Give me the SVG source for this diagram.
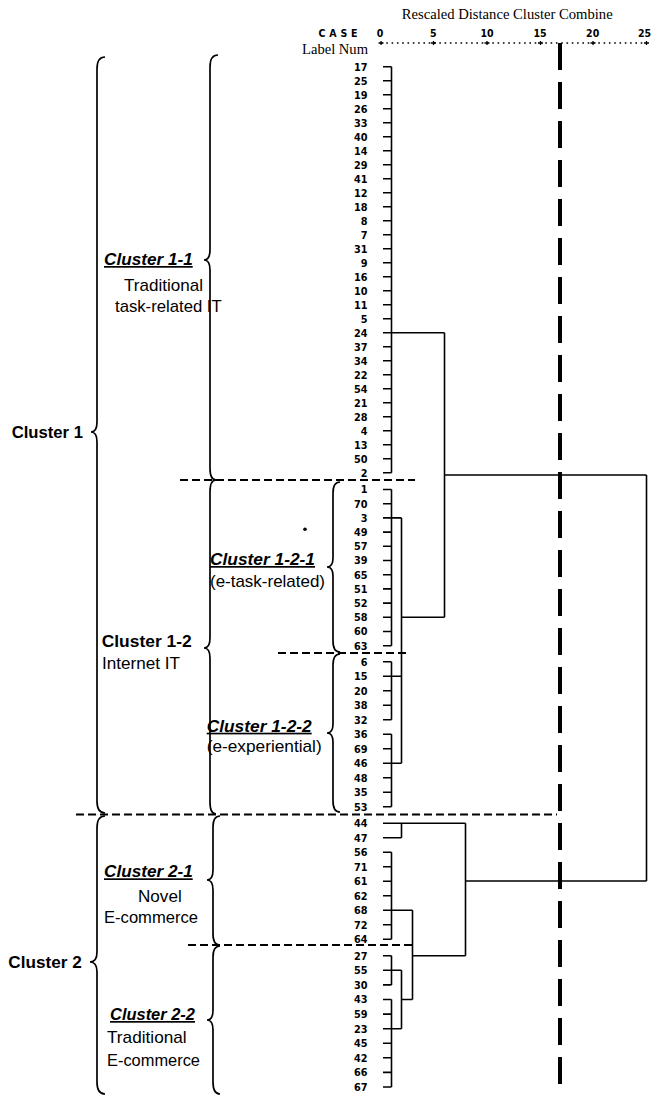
<svg xmlns="http://www.w3.org/2000/svg" width="653" height="1097" viewBox="0 0 653 1097">
<style>
.lf{font-family:"DejaVu Sans Condensed","DejaVu Sans",sans-serif;font-stretch:condensed;font-weight:bold;font-size:10.8px;text-anchor:end;fill:#000}
.ax{font-family:"DejaVu Sans Condensed","DejaVu Sans",sans-serif;font-stretch:condensed;font-weight:bold;font-size:10.5px;text-anchor:middle;fill:#000}
.sf{font-family:"Liberation Serif","Times New Roman",serif;fill:#000}
.cb{font-family:"Liberation Sans",Arial,sans-serif;font-weight:bold;font-size:17px;fill:#000}
.ci{font-family:"Liberation Sans",Arial,sans-serif;font-weight:bold;font-style:italic;font-size:17px;text-decoration:underline;fill:#000}
.cr{font-family:"Liberation Sans",Arial,sans-serif;font-size:17px;fill:#000}
.tree{fill:none;stroke:#000;stroke-width:1.6}
.brace{fill:none;stroke:#000;stroke-width:1.7}
.cut{fill:none;stroke:#000;stroke-width:2;stroke-dasharray:8 4}
</style>
<rect width="653" height="1097" fill="#fff"/>

<g id="header">
<text class="sf" x="401.7" y="19" font-size="14.5" textLength="211" lengthAdjust="spacingAndGlyphs">Rescaled Distance Cluster Combine</text>
<text class="ax" x="338" y="36.5" font-size="8.5" textLength="39" lengthAdjust="spacing">C A S E</text>
<text class="ax" x="380" y="36.5">0</text>
<text class="ax" x="433.3" y="36.5">5</text>
<text class="ax" x="487" y="36.5">10</text>
<text class="ax" x="540" y="36.5">15</text>
<text class="ax" x="592.7" y="36.5">20</text>
<text class="ax" x="644.5" y="36.5">25</text>
<text class="sf" x="302" y="53.5" font-size="15" textLength="66" lengthAdjust="spacingAndGlyphs">Label Num</text>
<line x1="381" y1="43" x2="647" y2="43" stroke="#000" stroke-width="1.4" stroke-dasharray="1.6 3.7"/>
<path d="M378.5 43h5M381 41v4M431 43h5M433.5 41v4M484.5 43h5M487 41v4M538 43h5M540.5 41v4M590.5 43h5M593 41v4M644 43h5M646.5 41v4" stroke="#000" stroke-width="1.3" fill="none"/>
</g>

<g id="leaf-labels">
<text class="lf" x="367.5" y="70.5">17</text>
<text class="lf" x="367.5" y="84.5">25</text>
<text class="lf" x="367.5" y="98.5">19</text>
<text class="lf" x="367.5" y="112.5">26</text>
<text class="lf" x="367.5" y="126.5">33</text>
<text class="lf" x="367.5" y="140.5">40</text>
<text class="lf" x="367.5" y="154.5">14</text>
<text class="lf" x="367.5" y="168.5">29</text>
<text class="lf" x="367.5" y="182.5">41</text>
<text class="lf" x="367.5" y="196.5">12</text>
<text class="lf" x="367.5" y="210.5">18</text>
<text class="lf" x="367.5" y="224.5">8</text>
<text class="lf" x="367.5" y="238.5">7</text>
<text class="lf" x="367.5" y="252.5">31</text>
<text class="lf" x="367.5" y="266.5">9</text>
<text class="lf" x="367.5" y="280.5">16</text>
<text class="lf" x="367.5" y="294.5">10</text>
<text class="lf" x="367.5" y="308.5">11</text>
<text class="lf" x="367.5" y="322.5">5</text>
<text class="lf" x="367.5" y="336.5">24</text>
<text class="lf" x="367.5" y="350.5">37</text>
<text class="lf" x="367.5" y="364.5">34</text>
<text class="lf" x="367.5" y="378.5">22</text>
<text class="lf" x="367.5" y="392.5">54</text>
<text class="lf" x="367.5" y="406.5">21</text>
<text class="lf" x="367.5" y="420.5">28</text>
<text class="lf" x="367.5" y="434.5">4</text>
<text class="lf" x="367.5" y="448.5">13</text>
<text class="lf" x="367.5" y="462.5">50</text>
<text class="lf" x="367.5" y="476.5">2</text>
<text class="lf" x="367.5" y="493.3">1</text>
<text class="lf" x="367.5" y="507.5">70</text>
<text class="lf" x="367.5" y="521.7">3</text>
<text class="lf" x="367.5" y="535.9">49</text>
<text class="lf" x="367.5" y="550.1">57</text>
<text class="lf" x="367.5" y="564.3">39</text>
<text class="lf" x="367.5" y="578.5">65</text>
<text class="lf" x="367.5" y="592.7">51</text>
<text class="lf" x="367.5" y="606.9">52</text>
<text class="lf" x="367.5" y="621.1">58</text>
<text class="lf" x="367.5" y="635.3">60</text>
<text class="lf" x="367.5" y="649.5">63</text>
<text class="lf" x="367.5" y="665.5">6</text>
<text class="lf" x="367.5" y="680">15</text>
<text class="lf" x="367.5" y="694.5">20</text>
<text class="lf" x="367.5" y="709">38</text>
<text class="lf" x="367.5" y="723.5">32</text>
<text class="lf" x="367.5" y="738">36</text>
<text class="lf" x="367.5" y="752.5">69</text>
<text class="lf" x="367.5" y="767">46</text>
<text class="lf" x="367.5" y="781.5">48</text>
<text class="lf" x="367.5" y="796">35</text>
<text class="lf" x="367.5" y="810.5">53</text>
<text class="lf" x="367.5" y="827.1">44</text>
<text class="lf" x="367.5" y="841.6">47</text>
<text class="lf" x="367.5" y="856.1">56</text>
<text class="lf" x="367.5" y="870.6">71</text>
<text class="lf" x="367.5" y="885.1">61</text>
<text class="lf" x="367.5" y="899.6">62</text>
<text class="lf" x="367.5" y="914.1">68</text>
<text class="lf" x="367.5" y="928.6">72</text>
<text class="lf" x="367.5" y="943.1">64</text>
<text class="lf" x="367.5" y="959.5">27</text>
<text class="lf" x="367.5" y="974.1">55</text>
<text class="lf" x="367.5" y="988.7">30</text>
<text class="lf" x="367.5" y="1003.3">43</text>
<text class="lf" x="367.5" y="1017.9">59</text>
<text class="lf" x="367.5" y="1032.5">23</text>
<text class="lf" x="367.5" y="1047">45</text>
<text class="lf" x="367.5" y="1061.6">42</text>
<text class="lf" x="367.5" y="1076.2">66</text>
<text class="lf" x="367.5" y="1090.8">67</text>
</g>

<g id="connectors">
<path class="tree" d="M383 66.7h8.5M383 80.7h8.5M383 94.7h8.5M383 108.7h8.5M383 122.7h8.5M383 136.7h8.5M383 150.7h8.5M383 164.7h8.5M383 178.7h8.5M383 192.7h8.5M383 206.7h8.5M383 220.7h8.5M383 234.7h8.5M383 248.7h8.5M383 262.7h8.5M383 276.7h8.5M383 290.7h8.5M383 304.7h8.5M383 318.7h8.5M383 332.7h8.5M383 346.7h8.5M383 360.7h8.5M383 374.7h8.5M383 388.7h8.5M383 402.7h8.5M383 416.7h8.5M383 430.7h8.5M383 444.7h8.5M383 458.7h8.5M383 472.7h8.5M391.5 66.7V472.7M391.5 332.7H444.5"/>
<path class="tree" d="M383 489.5h8.5M383 503.7h8.5M383 517.9h8.5M383 532.1h8.5M383 546.3h8.5M383 560.5h8.5M383 574.7h8.5M383 588.9h8.5M383 603.1h8.5M383 617.3h8.5M383 631.5h8.5M383 645.7h8.5M391.5 489.5V645.7M391.5 517.9H401.5"/>
<path class="tree" d="M383 661.7h8.5M383 676.2h8.5M383 690.7h8.5M383 705.2h8.5M383 719.7h8.5M391.5 661.7V719.7M391.5 676.2H401.5M383 734.2h8.5M383 748.7h8.5M383 763.2h8.5M383 777.7h8.5M383 792.2h8.5M383 806.7h8.5M391.5 734.2V806.7M391.5 763.2H401.5M401.5 517.9V763.2M401.5 617.3H444.5M444.5 332.7V617.3M444.5 475H646.5"/>
<path class="tree" d="M383 823.3H401.5M383 837.8H401.5M401.5 823.3V837.8M401.5 823.3H465.5M383 852.3h8.5M383 866.8h8.5M383 881.3h8.5M383 895.8h8.5M383 910.3h8.5M383 924.8h8.5M383 939.3h8.5M391.5 852.3V939.3M391.5 910.3H412.5"/>
<path class="tree" d="M383 955.7h8.5M383 970.3h8.5M383 984.9h8.5M391.5 955.7V984.9M391.5 970.3H401.5M383 999.5h8.5M383 1014.1h8.5M383 1028.7h8.5M383 1043.2h8.5M383 1057.8h8.5M383 1072.4h8.5M383 1087h8.5M391.5 999.5V1087M391.5 1028.7H401.5M401.5 970.3V1028.7M401.5 999.5H412.5M412.5 910.3V999.5M412.5 955.7H465.5M465.5 823.3V955.7M465.5 881H646.5M646.5 475V881"/>
</g>

<g id="cut-lines">
<line class="cut" x1="180" y1="480" x2="415" y2="480"/>
<line class="cut" x1="278" y1="653" x2="406" y2="653"/>
<line class="cut" x1="76" y1="814.5" x2="557" y2="814.5"/>
<line class="cut" x1="188" y1="945" x2="415" y2="945"/>
<line x1="560" y1="43" x2="560" y2="1092" stroke="#000" stroke-width="4" stroke-dasharray="27 12"/>
</g>

<g id="cluster-1">
<path class="brace" d="M105 57Q97 57 97 69L97 422Q97 432 91 432Q97 432 97 442L97 801Q97 813 105 813"/>
<text class="cb" x="11.7" y="437.5" textLength="71.3" lengthAdjust="spacingAndGlyphs">Cluster 1</text>
</g>
<g id="cluster-1-1">
<path class="brace" d="M218 55Q210 55 210 67L210 250Q210 260 204 260Q210 260 210 270L210 468Q210 480 216 480"/>
<text class="ci" x="104" y="265" textLength="88.7" lengthAdjust="spacingAndGlyphs">Cluster 1-1</text>
<text class="cr" x="124" y="291" textLength="79" lengthAdjust="spacingAndGlyphs">Traditional</text>
<text class="cr" x="115" y="311.7" textLength="106.7" lengthAdjust="spacingAndGlyphs">task-related IT</text>
</g>
<g id="cluster-1-2">
<path class="brace" d="M216 480Q210 480 210 492L210 638Q210 648 204 648Q210 648 210 658L210 802Q210 814 216 814"/>
<text class="cb" x="101.7" y="646.5" textLength="90" lengthAdjust="spacingAndGlyphs">Cluster 1-2</text>
<text class="cr" x="102" y="669" textLength="78" lengthAdjust="spacingAndGlyphs">Internet IT</text>
</g>
<g id="cluster-1-2-1">
<path class="brace" d="M340 482Q333 482 333 493L333 558Q333 567 327 567Q333 567 333 576L333 641Q333 652 340 652"/>
<circle cx="305" cy="529.3" r="1.8" fill="#000"/>
<text class="ci" x="210" y="565" textLength="105" lengthAdjust="spacingAndGlyphs">Cluster 1-2-1</text>
<text class="cr" x="210" y="586.7" textLength="115" lengthAdjust="spacingAndGlyphs">(e-task-related)</text>
</g>
<g id="cluster-1-2-2">
<path class="brace" d="M340 654Q333 654 333 665L333 724Q333 733 327 733Q333 733 333 742L333 801Q333 812 340 812"/>
<text class="ci" x="206.7" y="731.7" textLength="105" lengthAdjust="spacingAndGlyphs">Cluster 1-2-2</text>
<text class="cr" x="206.7" y="752" textLength="115" lengthAdjust="spacingAndGlyphs">(e-experiential)</text>
</g>
<g id="cluster-2">
<path class="brace" d="M105 816Q97 816 97 828L97 952Q97 962 90 962Q97 962 97 972L97 1082Q97 1094 105 1094"/>
<text class="cb" x="8.3" y="967.5" textLength="73.4" lengthAdjust="spacingAndGlyphs">Cluster 2</text>
</g>
<g id="cluster-2-1">
<path class="brace" d="M220 816Q213 816 213 827L213 870Q213 880 207 880Q213 880 213 890L213 934Q213 945 220 945"/>
<text class="ci" x="104" y="877.3" textLength="88.7" lengthAdjust="spacingAndGlyphs">Cluster 2-1</text>
<text class="cr" x="138" y="901.7" textLength="43.7" lengthAdjust="spacingAndGlyphs">Novel</text>
<text class="cr" x="104" y="922.7" textLength="94" lengthAdjust="spacingAndGlyphs">E-commerce</text>
</g>
<g id="cluster-2-2">
<path class="brace" d="M220 946Q213 946 213 957L213 1010Q213 1020 207 1020Q213 1020 213 1030L213 1082Q213 1094 220 1094"/>
<text class="ci" x="110" y="1020" textLength="85" lengthAdjust="spacingAndGlyphs">Cluster 2-2</text>
<text class="cr" x="107" y="1043.3" textLength="79.7" lengthAdjust="spacingAndGlyphs">Traditional</text>
<text class="cr" x="107" y="1065.7" textLength="93" lengthAdjust="spacingAndGlyphs">E-commerce</text>
</g>
</svg>
